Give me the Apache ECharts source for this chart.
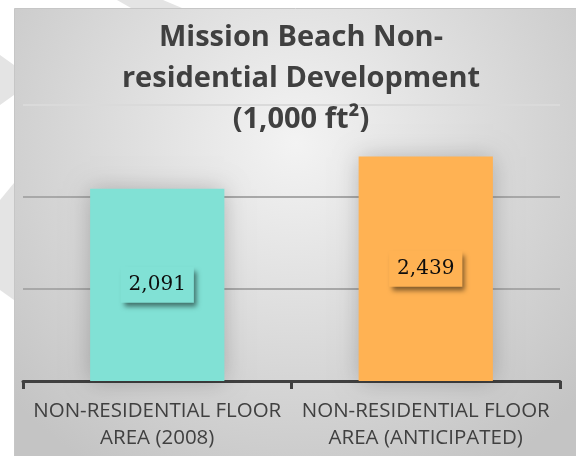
<!DOCTYPE html>
<html>
<head>
<meta charset="utf-8">
<title>Mission Beach Non-residential Development</title>
<script src="https://cdn.jsdelivr.net/npm/echarts@6/dist/echarts.min.js"></script>
<style>
  html, body { margin: 0; padding: 0; background: #fff; }
  #chart { width: 576px; height: 456px; }
</style>
</head>
<body>
<div id="chart"></div>
<script>
// data
const categories = ['NON-RESIDENTIAL FLOOR\nAREA (2008)', 'NON-RESIDENTIAL FLOOR\nAREA (ANTICIPATED)']
const values = [2091, 2439]
const barColors = ['#81e1d5', '#ffb253']
const titleText = 'Mission Beach Non-\nresidential Development\n(1,000 ft\u00b2)'

const myChart = echarts.init(document.getElementById('chart'))

// 背景的条纹
const stripe = '#e4e4e4'

let option = {
  animation: false,
  backgroundColor: '#ffffff',
  graphic: [
    { type: 'polygon', z: -20, shape: { points: [[117, 0], [163, 0], [182, 8], [131, 8]] }, style: { fill: stripe } },
    { type: 'polygon', z: -20, shape: { points: [[0, 55], [14, 65], [14, 95], [0, 105]] }, style: { fill: stripe } },
    { type: 'polygon', z: -20, shape: { points: [[0, 200], [14, 183], [14, 300], [0, 290]] }, style: { fill: stripe } },
    {
      type: 'rect',
      z: -10,
      shape: { x: 14.5, y: 8.5, width: 562, height: 448 },
      style: {
        fill: new echarts.graphic.RadialGradient(0.5, 0.3, 0.85, [
          { offset: 0, color: '#f3f3f3' },
          { offset: 1, color: '#c4c4c4' }
        ]),
        stroke: '#c6c6c6',
        lineWidth: 1
      }
    }
  ],
  title: {
    text: titleText,
    left: 301,
    textAlign: 'center',
    top: 17,
    padding: 0,
    textStyle: {
      fontFamily: 'Open Sans',
      fontSize: 29,
      fontWeight: 'bold',
      color: '#404040',
      lineHeight: 41
    }
  },
  grid: {
    left: 23,
    right: 16,
    top: 105,
    bottom: 75,
    containLabel: false
  },
  xAxis: {
    type: 'category',
    data: categories,
    axisLine: { lineStyle: { color: '#404040', width: 3 } },
    axisTick: { show: true, length: 8, lineStyle: { color: '#404040', width: 3 } },
    axisLabel: {
      interval: 0,
      margin: 17,
      fontFamily: 'Open Sans',
      fontSize: 20.5,
      lineHeight: 27,
      color: '#404040'
    }
  },
  yAxis: {
    type: 'value',
    min: 0,
    max: 3000,
    interval: 1000,
    axisLine: { show: false },
    axisTick: { show: false },
    axisLabel: { show: false },
    splitLine: {
      lineStyle: { color: ['#a8a8a8', '#a8a8a8', '#a8a8a8', '#dadada'], width: 2 }
    }
  },
  series: [
    {
      type: 'bar',
      barWidth: '50%',
      data: values,
      itemStyle: {
        color: function (p) {
          return barColors[p.dataIndex]
        },
        shadowBlur: 22,
        shadowColor: 'rgba(0,0,0,0.22)'
      },
      label: {
        show: true,
        position: 'inside',
        formatter: function (p) {
          return p.value.toLocaleString('en-US')
        },
        fontFamily: 'DejaVu Serif',
        fontSize: 20,
        lineHeight: 20,
        color: '#0d0d0d',
        backgroundColor: 'inherit',
        padding: [8, 8, 8, 8],
        shadowBlur: 5,
        shadowOffsetX: 3,
        shadowOffsetY: 4,
        shadowColor: 'rgba(0,0,0,0.5)'
      }
    }
  ]
}

myChart.clear()
myChart.setOption(option)
window.addEventListener('resize', function () {
  myChart.resize()
})
</script>
</body>
</html>
